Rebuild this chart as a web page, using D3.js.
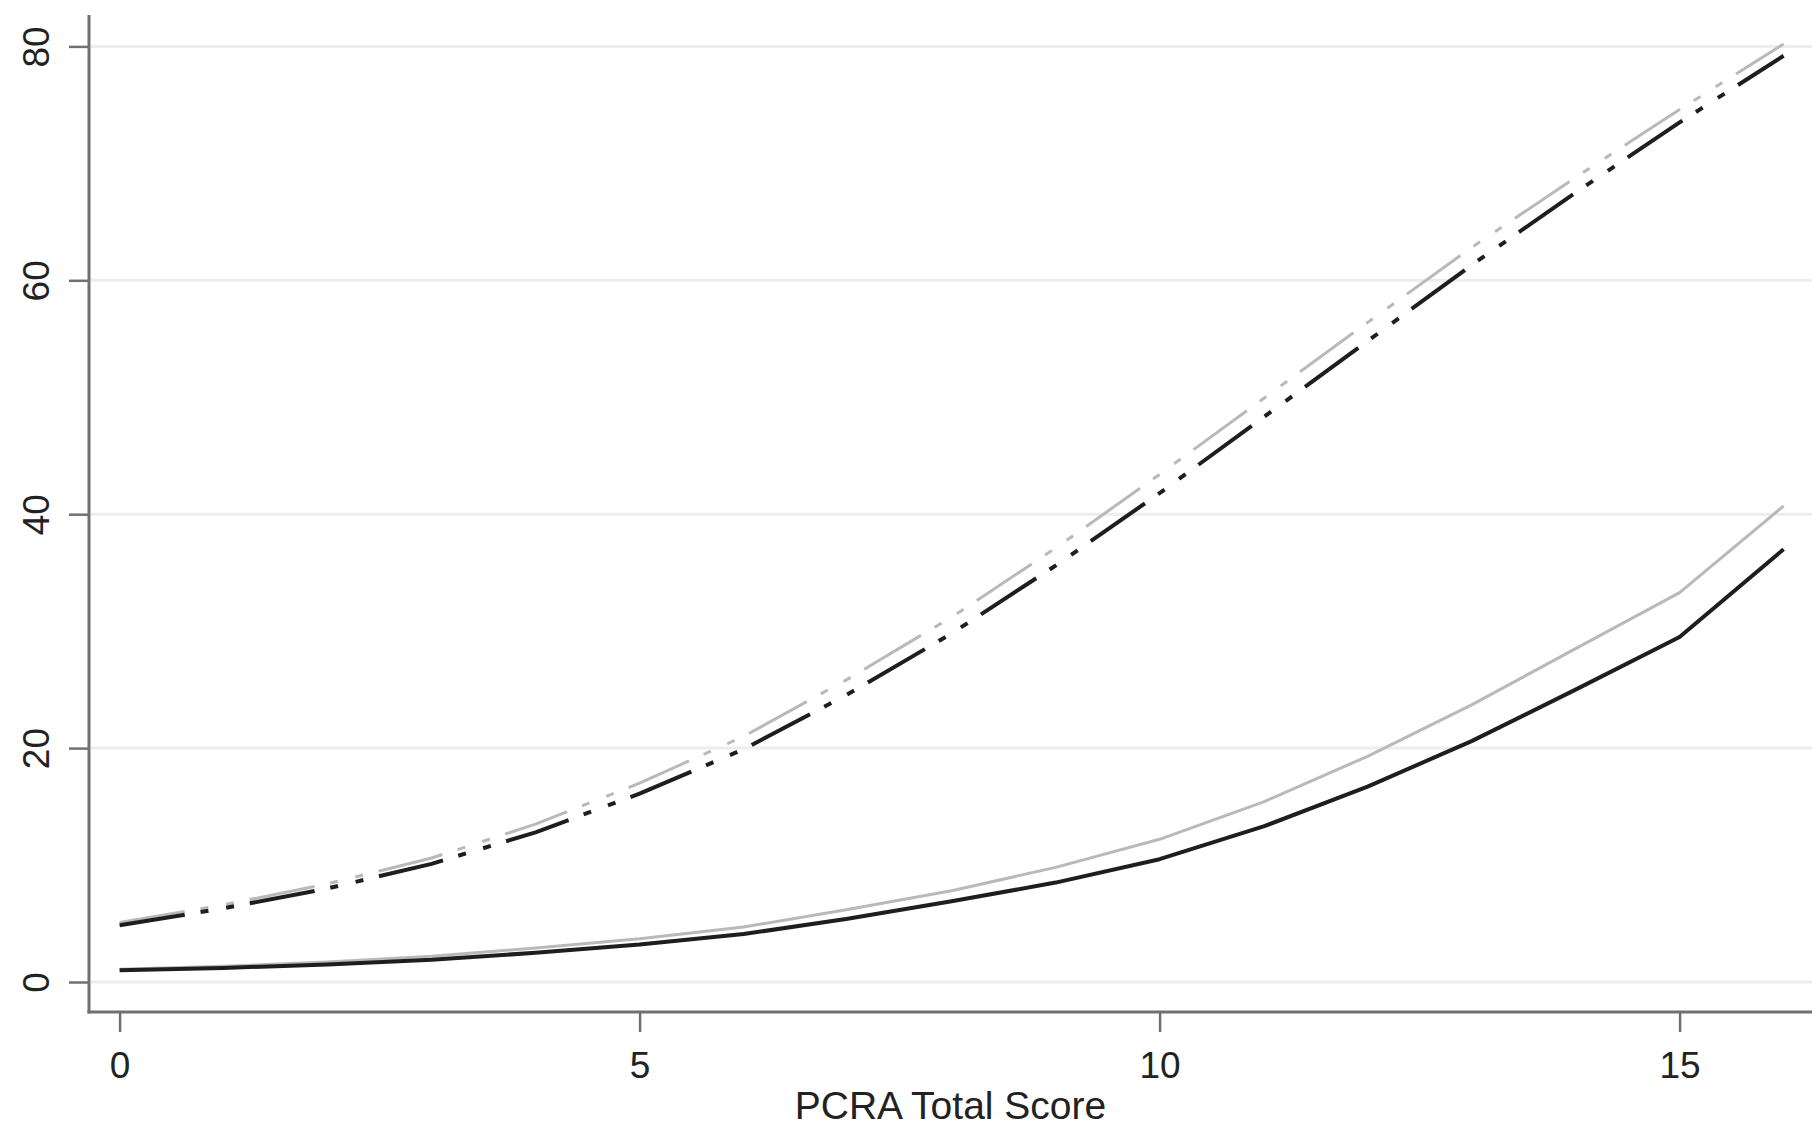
<!DOCTYPE html>
<html>
<head>
<meta charset="utf-8">
<script src="https://cdn.jsdelivr.net/npm/d3@7"></script>
<style>
  html, body { margin: 0; padding: 0; background: #ffffff; }
  svg { display: block; }
  text { font-family: "Liberation Sans", Arial, Helvetica, sans-serif; fill: #222222; }
</style>
</head>
<body>
<svg id="chart" width="1820" height="1132"></svg>
<script>
// PCRA total score on the x axis
const scores = [0, 1, 2, 3, 4, 5, 6, 7, 8, 9, 10, 11, 12, 13, 14, 15, 16];

// Four predicted curves
const upperBlack = [4.85, 6.3, 8.0, 10.1, 12.8, 16.1, 19.9, 24.6, 29.8, 35.6, 41.8, 48.3, 54.8, 61.3, 67.5, 73.5, 79.2];
const upperGray  = [5.1, 6.6, 8.4, 10.6, 13.5, 17.0, 21.0, 25.9, 31.2, 37.1, 43.4, 49.9, 56.4, 62.8, 68.8, 74.6, 80.2];
const lowerBlack = [1.0, 1.2, 1.5, 1.9, 2.5, 3.2, 4.1, 5.4, 6.9, 8.5, 10.5, 13.3, 16.7, 20.6, 25.0, 29.5, 37.0];
const lowerGray  = [1.1, 1.35, 1.7, 2.2, 2.9, 3.7, 4.7, 6.2, 7.8, 9.8, 12.2, 15.4, 19.3, 23.7, 28.5, 33.3, 40.7];

const xTicks = [0, 5, 10, 15];
const yTicks = [0, 20, 40, 60, 80];
const xTitle = "PCRA Total Score";

const svg = d3.select("#chart");

// frame of the plot region
const frame = { left: 89, right: 1812, top: 15, bottom: 1012 };

const x = d3.scaleLinear().domain([0, 16]).range([119.6, 1783.6]);
const y = d3.scaleLinear().domain([0, 80]).range([982, 46.4]);

const axisColor = "#707070";

// horizontal grid
svg.append("g")
  .selectAll("line")
  .data(yTicks)
  .join("line")
  .attr("x1", frame.left + 2)
  .attr("x2", frame.right)
  .attr("y1", d => y(d))
  .attr("y2", d => y(d))
  .attr("stroke", "#ededed")
  .attr("stroke-width", 3);

// curves
const line = d3.line().x((d, i) => x(scores[i])).y(d => y(d)).curve(d3.curveLinear);
const dashDotDot = "66,16,8,18,8,16";

const series = [
  { values: upperGray,  color: "#b9b9b9", width: 3,   dash: dashDotDot },
  { values: lowerGray,  color: "#b9b9b9", width: 3,   dash: null },
  { values: upperBlack, color: "#1e1e1e", width: 4,   dash: dashDotDot },
  { values: lowerBlack, color: "#1e1e1e", width: 4,   dash: null }
];

svg.append("g")
  .selectAll("path")
  .data(series)
  .join("path")
  .attr("d", d => line(d.values))
  .attr("fill", "none")
  .attr("stroke", d => d.color)
  .attr("stroke-width", d => d.width)
  .attr("stroke-dasharray", d => d.dash)
  .attr("stroke-linecap", "butt")
  .attr("stroke-linejoin", "round");

// y axis
const yAxis = d3.axisLeft(y).tickValues(yTicks).tickSize(20).tickPadding(0).tickFormat(d3.format("d"));
const gy = svg.append("g").attr("transform", `translate(${frame.left},0)`).call(yAxis);
gy.select(".domain").remove();
gy.selectAll(".tick line").attr("stroke", axisColor).attr("stroke-width", 2.5);
gy.selectAll(".tick text")
  .attr("x", null).attr("dy", null)
  .attr("transform", "translate(-40,0) rotate(-90)")
  .attr("text-anchor", "middle")
  .style("font-size", "37px")
  .style("fill", "#222222")
  .attr("fill", null);

// x axis
const xAxis = d3.axisBottom(x).tickValues(xTicks).tickSize(20).tickPadding(0).tickFormat(d3.format("d"));
const gx = svg.append("g").attr("transform", `translate(0,${frame.bottom})`).call(xAxis);
gx.select(".domain").remove();
gx.selectAll(".tick line").attr("stroke", axisColor).attr("stroke-width", 2.5);
gx.selectAll(".tick text")
  .attr("y", 66).attr("dy", null)
  .style("font-size", "37px")
  .style("fill", "#222222")
  .attr("fill", null);

// axis lines
svg.append("line")
  .attr("x1", frame.left).attr("x2", frame.left)
  .attr("y1", frame.top).attr("y2", frame.bottom + 1.5)
  .attr("stroke", axisColor).attr("stroke-width", 3);
svg.append("line")
  .attr("x1", frame.left - 1.5).attr("x2", frame.right)
  .attr("y1", frame.bottom).attr("y2", frame.bottom)
  .attr("stroke", axisColor).attr("stroke-width", 3);

// axis title
svg.append("text")
  .attr("x", (frame.left + frame.right) / 2)
  .attr("y", 1119)
  .attr("text-anchor", "middle")
  .style("font-size", "39px")
  .text(xTitle);
</script>
</body>
</html>
